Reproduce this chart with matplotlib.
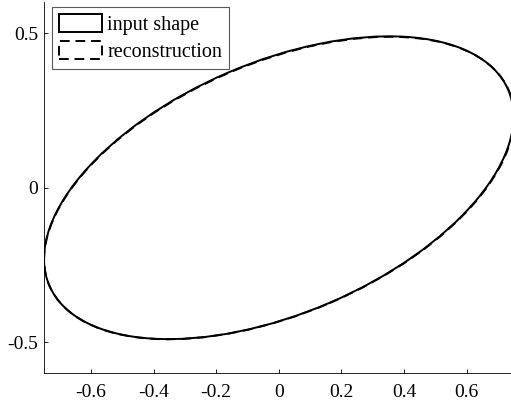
import matplotlib.pyplot as plt
from matplotlib.patches import Ellipse

plt.rcParams['font.family'] = ['Liberation Serif', 'DejaVu Serif']

# ellipse parameters (centre, full width/height, rotation in degrees)
shape_names = ['input shape', 'reconstruction']
centers = [(0.0, 0.0), (0.001, -0.001)]
widths = [1.597, 1.598]
heights = [0.813, 0.812]
angles = [23.5, 23.45]
linestyles = ['-', (0, (5, 3))]

x_ticks = [-0.6, -0.4, -0.2, 0, 0.2, 0.4, 0.6]
x_labels = ['-0.6', '-0.4', '-0.2', '0', '0.2', '0.4', '0.6']
y_ticks = [-0.5, 0, 0.5]
y_labels = ['-0.5', '0', '0.5']

fig = plt.figure(figsize=(5.11, 4.05), dpi=100)
ax = fig.add_axes([0.0861, 0.079, 1.005 - 0.0861, 0.994 - 0.079])

for name, c, w, h, a, ls in zip(shape_names, centers, widths, heights, angles, linestyles):
    e = Ellipse(c, w, h, angle=a, facecolor='none', edgecolor='black',
                linewidth=1.4, linestyle=ls, label=name)
    ax.add_patch(e)

ax.set_xlim(-0.75, 0.75)
ax.set_ylim(-0.6, 0.6)
ax.set_xticks(x_ticks)
ax.set_xticklabels(x_labels)
ax.set_yticks(y_ticks)
ax.set_yticklabels(y_labels)
ax.tick_params(direction='in', length=3, width=0.6, labelsize=14)
ax.tick_params(axis='x', pad=8)
ax.tick_params(axis='y', pad=4)
ax.spines['top'].set_visible(False)
ax.spines['right'].set_visible(False)
ax.spines['left'].set_linewidth(0.6)
ax.spines['bottom'].set_linewidth(0.6)

leg = ax.legend(loc='upper left', bbox_to_anchor=(52 / 511, 1 - 7 / 405),
                bbox_transform=fig.transFigure, borderaxespad=0,
                fontsize=14.5, handlelength=2.15, handleheight=1.0,
                labelspacing=0.3, handletextpad=0.25, borderpad=0.35,
                fancybox=False, framealpha=1)
leg.get_frame().set_edgecolor('0.35')
leg.get_frame().set_linewidth(0.8)

fig.savefig('out.png', dpi=100)
